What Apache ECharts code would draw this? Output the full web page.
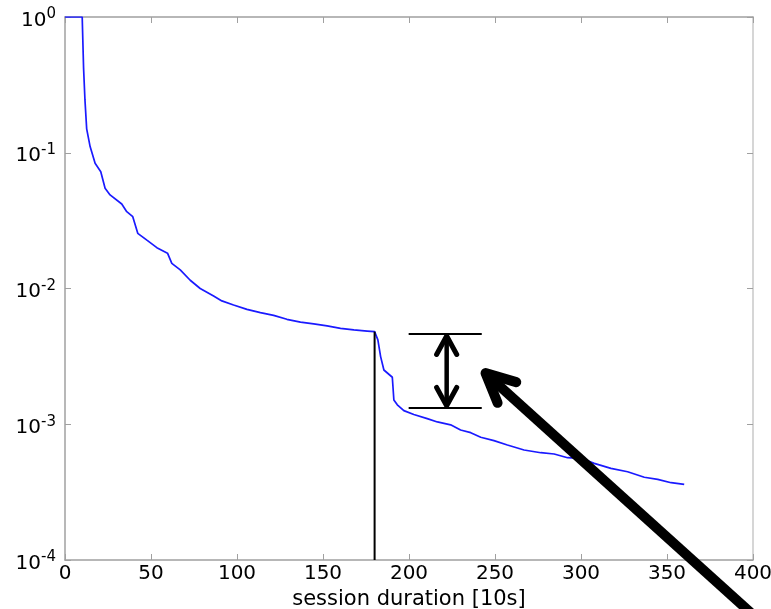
<!DOCTYPE html>
<html>
<head>
<meta charset="utf-8">
<script src="https://cdn.jsdelivr.net/npm/echarts@6/dist/echarts.min.js"></script>
<style>
html,body{margin:0;padding:0;background:#fff;overflow:hidden;}
#c{width:771px;height:609px;}
</style>
</head>
<body>
<div id="c"></div>
<script>
// ---- data ----
const durations = [0, 10, 10.8, 11.6, 12.6, 14.6, 17.5, 20.8, 23.3, 26.2, 33, 35.9, 39.4, 42.3, 47.6, 53.4, 59.6, 62.1, 67, 72.8, 78.6, 86.4, 91.2, 98, 105.8, 113.6, 121.3, 129, 136.9, 144.6, 152.4, 160.2, 167.9, 175.7, 180, 181.9, 183.5, 185.4, 190.3, 191.2, 193.2, 197, 202.8, 210.6, 216.5, 224.2, 230, 235.9, 241.7, 249.4, 257.2, 266.9, 276.6, 284.4, 292.2, 300, 307.7, 317.4, 327.1, 336.8, 344.6, 352.4, 360];
const fractions = [1, 1, 0.42, 0.245, 0.15, 0.111, 0.0836, 0.0725, 0.0547, 0.0489, 0.0419, 0.0368, 0.0338, 0.0255, 0.0227, 0.02, 0.0182, 0.0153, 0.0137, 0.0115, 0.0100, 0.0088, 0.0081, 0.00756, 0.00702, 0.00664, 0.00634, 0.00593, 0.00566, 0.00548, 0.0053, 0.00509, 0.00495, 0.00486, 0.00481, 0.00418, 0.00315, 0.00251, 0.00222, 0.00151, 0.00139, 0.00126, 0.00118, 0.0011, 0.00104, 0.00099, 0.000907, 0.000867, 0.000802, 0.000757, 0.000703, 0.000646, 0.000617, 0.000604, 0.000567, 0.000561, 0.000515, 0.000473, 0.000447, 0.000407, 0.000393, 0.000371, 0.000361];
const cutoffX = 180;
const cutoffY = [1e-4, 0.00481];
const xTicks = [0, 50, 100, 150, 200, 250, 300, 350, 400];
const yDecades = [1e-4, 1e-3, 1e-2, 1e-1, 1];
const xName = 'session duration [10s]';
// annotation anchors (data space)
const bracketX = [199.8, 242.3];
const bracketY = [0.00462, 0.00132];
const doubleArrowX = 221.9;
const pointerTip = [244.5, 0.00238];
const pointerTail = [399.5, 4.0e-5];

const FONT = 'DejaVu Sans';
const AXIS_COLOR = '#a0a0a0';

const chart = echarts.init(document.getElementById('c'), null, {renderer: 'canvas', width: 771, height: 609});

function yLabel(v) {
  const e = Math.round(Math.log10(v));
  return '{b|10}{e|' + e + '}';
}
const yRich = {
  b: {fontSize: 20, fontFamily: FONT, color: '#000', padding: [7, 0, 0, 0]},
  e: {fontSize: 15, fontFamily: FONT, color: '#000', padding: [0, 0, 5, 0]}
};

const lineData = durations.map((d, i) => [d, fractions[i]]);

const option = {
  animation: false,
  backgroundColor: '#fff',
  grid: {left: 65, right: 18, top: 17, bottom: 49, containLabel: false, outerBoundsMode: 'none'},
  xAxis: [{
    type: 'value', min: xTicks[0], max: xTicks[xTicks.length - 1], interval: 50,
    position: 'bottom',
    axisLine: {show: true, onZero: false, lineStyle: {color: AXIS_COLOR, width: 1.5}},
    axisTick: {show: true, inside: true, length: 6, lineStyle: {color: AXIS_COLOR}},
    axisLabel: {fontSize: 20, fontFamily: FONT, color: '#000', margin: 4},
    splitLine: {show: false},
    name: xName, nameLocation: 'middle', nameGap: 23,
    nameTextStyle: {fontSize: 21, fontFamily: FONT, color: '#000'}
  }, {
    type: 'value', min: xTicks[0], max: xTicks[xTicks.length - 1], interval: 50,
    position: 'top',
    axisLine: {show: true, onZero: false, lineStyle: {color: AXIS_COLOR, width: 1.5}},
    axisTick: {show: true, inside: true, length: 6, lineStyle: {color: AXIS_COLOR}},
    axisLabel: {show: false},
    splitLine: {show: false}
  }],
  yAxis: [{
    type: 'log', logBase: 10, min: yDecades[0], max: yDecades[yDecades.length - 1],
    position: 'left',
    axisLine: {show: true, onZero: false, lineStyle: {color: AXIS_COLOR, width: 1.5}},
    axisTick: {show: true, inside: true, length: 6, lineStyle: {color: AXIS_COLOR}},
    axisLabel: {formatter: yLabel, rich: yRich, margin: 9},
    minorTick: {show: false},
    splitLine: {show: false}
  }, {
    type: 'log', logBase: 10, min: yDecades[0], max: yDecades[yDecades.length - 1],
    position: 'right',
    axisLine: {show: true, onZero: false, lineStyle: {color: '#c8c8c8', width: 1.5}},
    axisTick: {show: true, inside: true, length: 6, lineStyle: {color: AXIS_COLOR}},
    axisLabel: {show: false},
    splitLine: {show: false}
  }],
  series: [{
    type: 'line', name: 'ccdf', data: lineData, xAxisIndex: 0, yAxisIndex: 0,
    showSymbol: false, symbol: 'none', smooth: false,
    lineStyle: {color: '#1a1aff', width: 1.7}, z: 3
  }, {
    type: 'line', name: 'cutoff', data: cutoffY.map(v => [cutoffX, v]), xAxisIndex: 0, yAxisIndex: 0,
    showSymbol: false, symbol: 'none',
    lineStyle: {color: '#000', width: 2}, z: 4
  }]
};
chart.setOption(option);

function px(p) { return chart.convertToPixel({xAxisIndex: 0, yAxisIndex: 0}, p); }

const bTopL = px([bracketX[0], bracketY[0]]), bTopR = px([bracketX[1], bracketY[0]]);
const bBotL = px([bracketX[0], bracketY[1]]), bBotR = px([bracketX[1], bracketY[1]]);
const aTop = px([doubleArrowX, bracketY[0]]), aBot = px([doubleArrowX, bracketY[1]]);
const tip = px(pointerTip), tail = px(pointerTail);

function barbs(t, dirx, diry, len, ang) {
  const n = Math.hypot(dirx, diry); const ux = dirx / n, uy = diry / n;
  const r = a => [t[0] + len * (ux * Math.cos(a) - uy * Math.sin(a)), t[1] + len * (ux * Math.sin(a) + uy * Math.cos(a))];
  return [r(ang), [t[0], t[1]], r(-ang)];
}

const blk = '#000';
const graphics = [
  {type: 'line', z: 100, shape: {x1: bTopL[0], y1: bTopL[1], x2: bTopR[0], y2: bTopR[1]}, style: {stroke: blk, lineWidth: 2}},
  {type: 'line', z: 100, shape: {x1: bBotL[0], y1: bBotL[1], x2: bBotR[0], y2: bBotR[1]}, style: {stroke: blk, lineWidth: 2}},
  {type: 'line', z: 100, shape: {x1: aTop[0], y1: aTop[1] + 3, x2: aBot[0], y2: aBot[1] - 3}, style: {stroke: blk, lineWidth: 4.5}},
  {type: 'polyline', z: 100, shape: {points: barbs([aTop[0], aTop[1] + 2], 0, 1, 21, 0.5)}, style: {stroke: blk, lineWidth: 5, lineCap: 'round', lineJoin: 'round', fill: null}},
  {type: 'polyline', z: 100, shape: {points: barbs([aBot[0], aBot[1] - 2], 0, -1, 21, 0.5)}, style: {stroke: blk, lineWidth: 5, lineCap: 'round', lineJoin: 'round', fill: null}},
  {type: 'line', z: 100, shape: {x1: tail[0], y1: tail[1], x2: tip[0] + 3, y2: tip[1] + 3}, style: {stroke: blk, lineWidth: 10}},
  {type: 'polyline', z: 100, shape: {points: barbs(tip, tail[0] - tip[0], tail[1] - tip[1], 32, 0.45)}, style: {stroke: blk, lineWidth: 10, lineCap: 'round', lineJoin: 'round', fill: null}}
];
chart.setOption({graphic: graphics});
</script>
</body>
</html>
